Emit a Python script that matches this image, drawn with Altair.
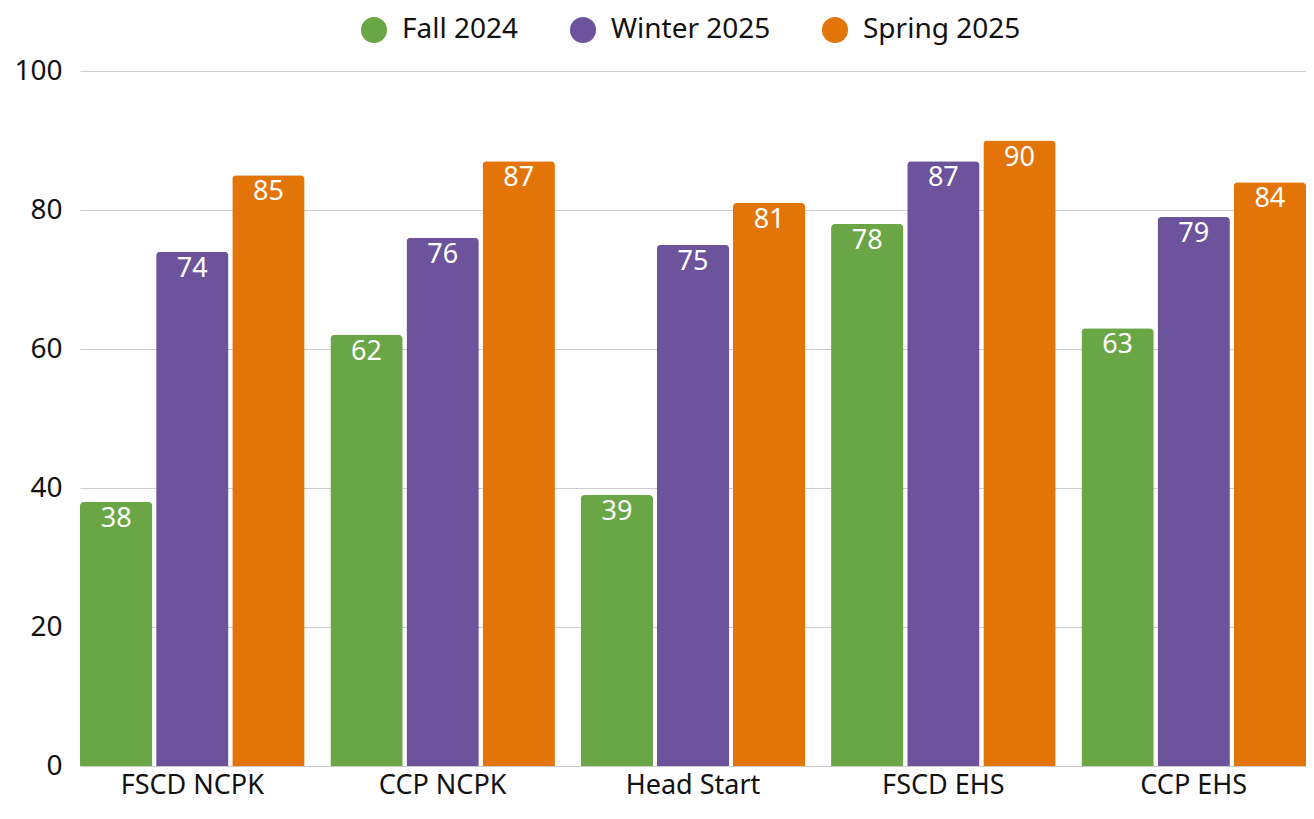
import altair as alt
import pandas as pd

categories = ["FSCD NCPK", "CCP NCPK", "Head Start", "FSCD EHS", "CCP EHS"]
series = ["Fall 2024", "Winter 2025", "Spring 2025"]
fall = [38, 62, 39, 78, 63]
winter = [74, 76, 75, 87, 79]
spring = [85, 87, 81, 90, 84]
colors = ["#6aa645", "#6c539b", "#e37508"]

rows = []
for i, c in enumerate(categories):
    for s, vals in zip(series, [fall, winter, spring]):
        rows.append({"Program": c, "Term": s, "Value": vals[i]})
df = pd.DataFrame(rows)

FONT = "Noto Sans"

x = alt.X("Program:N", sort=categories, title=None,
          scale=alt.Scale(paddingInner=0.103, paddingOuter=0),
          axis=alt.Axis(labelAngle=0, labelFontSize=27, labelColor="#111111",
                        labelPadding=6, ticks=False, domain=False, labelFont=FONT))
xo = alt.XOffset("Term:N", sort=series, scale=alt.Scale(paddingInner=0.05))
y = alt.Y("Value:Q", title=None, scale=alt.Scale(domain=[0, 100]),
          axis=alt.Axis(values=[0, 20, 40, 60, 80, 100], labelFontSize=28, labelColor="#111111",
                        labelPadding=18, ticks=False, domain=False, gridColor="#cccccc",
                        gridWidth=1, labelFont=FONT))

bars = alt.Chart(df).mark_bar(cornerRadiusTopLeft=4, cornerRadiusTopRight=4).encode(
    x=x, xOffset=xo, y=y,
    color=alt.Color("Term:N", sort=series,
                    scale=alt.Scale(domain=series, range=colors),
                    legend=alt.Legend(title=None, orient="none", direction="horizontal",
                                      legendX=280, legendY=-55, symbolType="circle",
                                      symbolSize=680, symbolStrokeWidth=0, labelFontSize=28,
                                      labelFont=FONT, labelColor="#111111", labelOffset=14,
                                      columnPadding=50, padding=0, symbolOpacity=1)),
)

labels = alt.Chart(df).mark_text(baseline="top", dy=4, fontSize=27, color="white", font=FONT).encode(
    x=alt.X("Program:N", sort=categories), xOffset=alt.XOffset("Term:N", sort=series),
    y="Value:Q", text="Value:Q",
)

chart = (bars + labels).properties(
    width=1226, height=695,
    autosize=alt.AutoSizeParams(type="none"),
    padding={"left": 72, "top": 63, "right": 0, "bottom": 40},
).configure(font=FONT).configure_view(stroke=None)

chart.save("out.html", embed_options={"renderer": "svg", "actions": False})
